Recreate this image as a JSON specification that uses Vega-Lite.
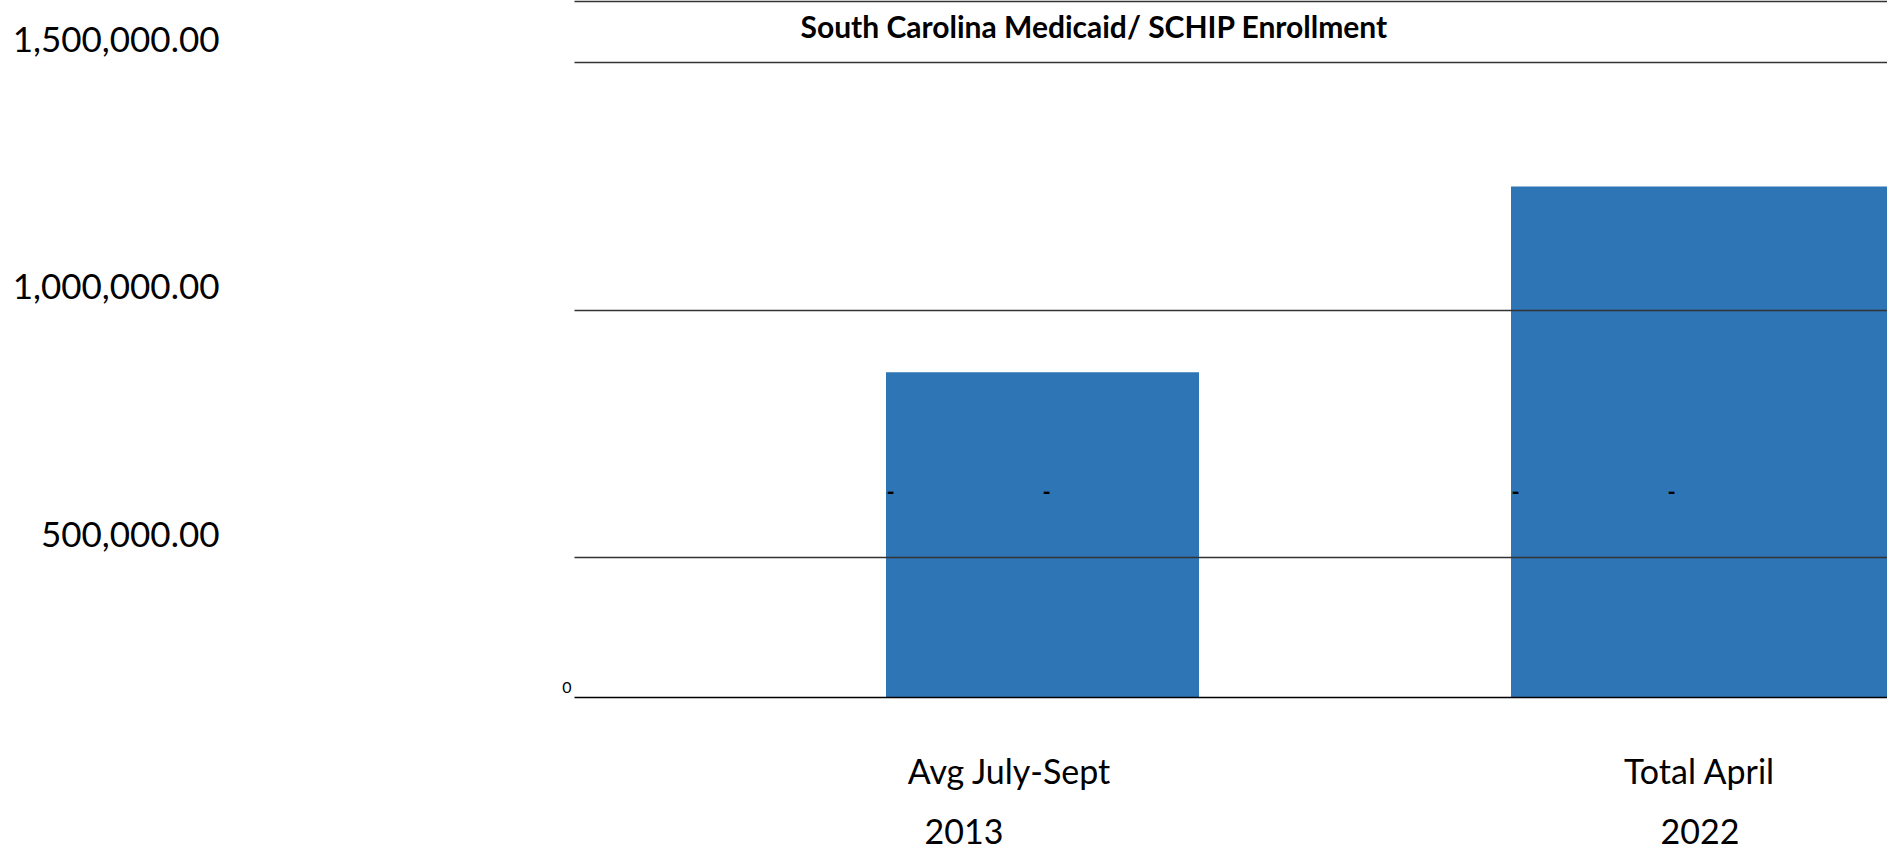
{
  "$schema": "https://vega.github.io/schema/vega-lite/v6.json",
  "autosize": "none",
  "width": 1313,
  "height": 696,
  "padding": {"left": 574, "top": 1, "right": 0, "bottom": 156},
  "background": "white",
  "config": {"view": {"stroke": null}, "font": "Lato"},
  "datasets": {
    "enrollment": [
      {"period": "Avg July-Sept 2013", "enrollment": 874000},
      {"period": "Total April 2022", "enrollment": 1249000}
    ],
    "dashes": [
      {"period": "Avg July-Sept 2013", "series": "A", "text": "-", "position": 630000},
      {"period": "Avg July-Sept 2013", "series": "B", "text": "-", "position": 630000},
      {"period": "Total April 2022", "series": "A", "text": "-", "position": 630000},
      {"period": "Total April 2022", "series": "B", "text": "-", "position": 630000}
    ]
  },
  "layer": [
    {
      "data": {"name": "enrollment"},
      "mark": {"type": "bar", "color": "#2E75B6", "clip": true},
      "encoding": {
        "x": {
          "field": "period",
          "type": "nominal",
          "sort": null,
          "scale": {"domain": ["Avg July-Sept 2013", "Total April 2022"], "paddingInner": 0.42728, "paddingOuter": 0.21364, "align": 1},
          "axis": {
            "orient": "bottom",
            "domain": false,
            "ticks": false,
            "tickSize": 0,
            "grid": false,
            "labelAngle": 0,
            "labelFont": "Lato",
            "labelFontSize": 34,
            "labelColor": "black",
            "labelBaseline": "alphabetic",
            "labelAlign": "center",
            "labelPadding": 86,
            "labelOverlap": false,
            "labelFlush": false,
            "labelLimit": 0,
            "labelExpr": "slice(datum.label, 0, -5)",
            "labelOffset": {"condition": {"test": "datum.value == 'Avg July-Sept 2013'", "value": -33.5}, "value": 0},
            "title": null
          }
        },
        "y": {
          "field": "enrollment",
          "type": "quantitative",
          "scale": {"domain": [217500, 1624000], "nice": false, "zero": false},
          "axis": {
            "orient": "left",
            "values": [217500, 500000, 1000000, 1500000],
            "domain": false,
            "ticks": false,
            "grid": true,
            "gridColor": {"condition": {"test": "datum.value < 300000", "value": "#000000"}, "value": "#333333"},
            "gridWidth": 1.3,
            "labelExpr": "datum.value < 300000 ? '0' : format(datum.value, ',.2f')",
            "labelFont": "Lato",
            "labelColor": "black",
            "labelAlign": "right",
            "labelBaseline": "alphabetic",
            "labelPadding": {"condition": {"test": "datum.value < 300000", "value": 3}, "value": 355},
            "labelLimit": 0,
            "labelFontSize": {"condition": {"test": "datum.value < 300000", "value": 16}, "value": 35},
            "labelOffset": {"condition": {"test": "datum.value < 300000", "value": -5}, "value": -11},
            "labelFlush": false,
            "labelOverlap": false,
            "title": null,
            "zindex": 1
          }
        },
        "size": {"condition": {"test": "datum.period == 'Total April 2022'", "value": 376}, "value": 313}
      }
    },
    {
      "data": {"name": "dashes"},
      "transform": [{"filter": "datum.period == 'Avg July-Sept 2013'"}],
      "mark": {"type": "text", "fontSize": 22, "font": "Lato", "fontWeight": "bold", "color": "black", "baseline": "middle", "align": "center"},
      "encoding": {
        "x": {
          "field": "period",
          "type": "nominal",
          "sort": null,
          "scale": {"domain": ["Avg July-Sept 2013", "Total April 2022"], "paddingInner": 0.42728, "paddingOuter": 0.21364, "align": 1},
          "axis": {
            "orient": "bottom",
            "domain": false,
            "ticks": false,
            "tickSize": 0,
            "grid": false,
            "labelAngle": 0,
            "labelFont": "Lato",
            "labelFontSize": 34,
            "labelColor": "black",
            "labelBaseline": "alphabetic",
            "labelAlign": "center",
            "labelPadding": 146,
            "labelOverlap": false,
            "labelFlush": false,
            "labelLimit": 0,
            "labelExpr": "slice(datum.label, -4)",
            "labelOffset": {"condition": {"test": "datum.value == 'Avg July-Sept 2013'", "value": -78.5}, "value": 1},
            "title": null
          }
        },
        "xOffset": {"field": "series", "type": "nominal", "scale": {"type": "point", "range": [36, 192], "padding": 0}},
        "y": {"field": "position", "type": "quantitative", "scale": {"domain": [217500, 1624000], "nice": false, "zero": false}},
        "text": {"field": "text"}
      }
    },
    {
      "data": {"name": "dashes"},
      "transform": [{"filter": "datum.period == 'Total April 2022'"}],
      "mark": {"type": "text", "fontSize": 22, "font": "Lato", "fontWeight": "bold", "color": "black", "baseline": "middle", "align": "center"},
      "encoding": {
        "x": {
          "field": "period",
          "type": "nominal",
          "sort": null,
          "scale": {"domain": ["Avg July-Sept 2013", "Total April 2022"], "paddingInner": 0.42728, "paddingOuter": 0.21364, "align": 1},
          "axis": {
            "orient": "top",
            "domain": true,
            "domainColor": "#333333",
            "domainWidth": 1.3,
            "labels": false,
            "ticks": false,
            "grid": false,
            "title": "South  Carolina Medicaid/  SCHIP Enrollment",
            "titleFont": "Lato",
            "titleFontSize": 30,
            "titleFontWeight": "bold",
            "titleColor": "black",
            "titleAlign": "left",
            "titleAnchor": "start",
            "titleBaseline": "alphabetic",
            "titleX": 226,
            "titleY": 36.3
          }
        },
        "xOffset": {"field": "series", "type": "nominal", "scale": {"type": "point", "range": [4.7, 160.5], "padding": 0}},
        "y": {"field": "position", "type": "quantitative", "scale": {"domain": [217500, 1624000], "nice": false, "zero": false}},
        "text": {"field": "text"}
      }
    }
  ],
  "resolve": {"scale": {"x": "independent", "xOffset": "independent"}, "axis": {"x": "independent"}}
}
